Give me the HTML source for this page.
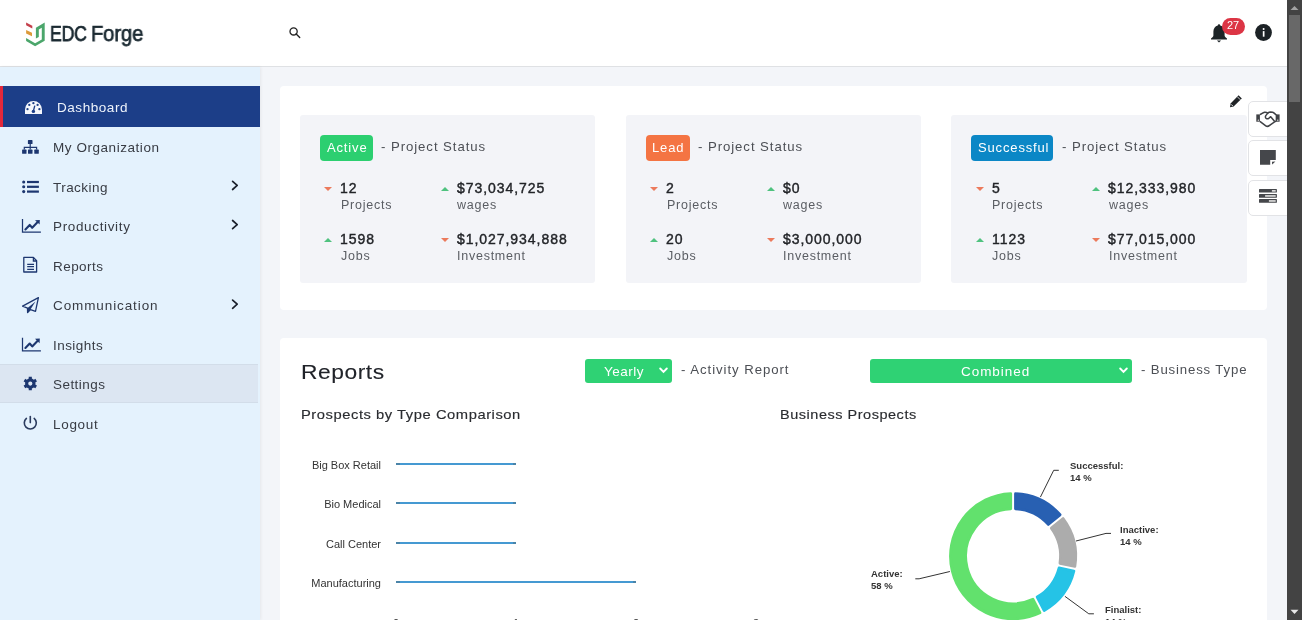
<!DOCTYPE html>
<html><head><meta charset="utf-8"><style>
*{box-sizing:border-box;margin:0;padding:0}
html,body{width:1302px;height:620px;overflow:hidden}
body{background:#f3f5f9;font-family:"Liberation Sans",sans-serif;position:relative;color:#333}
.abs{position:absolute}
.t{position:absolute;line-height:1;white-space:nowrap;will-change:transform}
#hdr{position:absolute;left:0;top:0;width:1287px;height:67px;background:#fff;border-bottom:1px solid #dfe1e4}
#side{position:absolute;left:0;top:67px;width:260px;height:553px;background:#e4f2fd;box-shadow:1px 0 3px rgba(0,0,0,.06)}
.it{position:absolute;left:0;width:260px}
#sb{position:absolute;left:1287px;top:0;width:15px;height:620px;background:#434343}
.card{position:absolute;background:#fff;border-radius:4px}
.box{position:absolute;top:115px;width:295.4px;height:168px;background:#f3f4f8;border-radius:3px}
.badge{position:absolute;height:25.5px;border-radius:4px}
.tri{position:absolute;width:0;height:0;border-left:4px solid transparent;border-right:4px solid transparent}
.up{border-bottom:4.5px solid #4fc27f}
.dn{border-top:4.5px solid #ec7a5c}
.sbtn{position:absolute;left:1248px;width:45px;height:36px;background:#fff;border:1px solid #e2e3e6;border-radius:5px 0 0 5px}
.sel{position:absolute;top:359px;height:23.5px;background:#2fd274;border-radius:3px}
.bar{position:absolute;left:396px;height:2px;background:#4599d2}
</style></head><body>
<div id="hdr"></div>
<svg class="abs" style="left:20px;top:15px" width="30" height="35" viewBox="0 0 30 35">
<path d="M6.1 7.4 L12.3 10.7 L12.3 13.6 L6.1 10.2Z" fill="#c4404c"/>
<path d="M6.1 15.1 L12 17.7 L12 21.3 L6.1 18.5Z" fill="#dc9a3a"/>
<path d="M6.1 23.1 L15.1 28.2 L21.8 24.4 L21.8 12.8 L18.8 14.5 L18.8 22 L15.9 23.6 L15.9 12.7 L24.7 7.6 L24.7 25.8 L15.1 31.2 L6.1 26.1 Z" fill="#4ba66b"/>
</svg>
<div class="t" style="left:50.20px;top:22.64px;font-size:22.4px;color:#1b2a32;letter-spacing:-0.3px;transform:scaleX(0.79);transform-origin:0 0;-webkit-text-stroke:.75px #1b2a32;">EDC</div>
<div class="t" style="left:91.30px;top:22.64px;font-size:22.4px;color:#1b2a32;letter-spacing:-0.1px;transform:scaleX(0.9);transform-origin:0 0;-webkit-text-stroke:.75px #1b2a32;">Forge</div>
<svg class="abs" style="left:289px;top:27px" width="12" height="12" viewBox="0 0 12 12">
<circle cx="4.6" cy="4.4" r="3.6" fill="none" stroke="#222" stroke-width="1.3"/>
<path d="M7.2 7 L10.7 10.4" stroke="#222" stroke-width="1.4" stroke-linecap="round"/></svg>
<svg class="abs" style="left:1210px;top:23px" width="18" height="21" viewBox="0 0 18 21">
<path d="M9 1.2 C9.8 1.2 10.2 1.8 10.2 2.6 C13 3.3 14.6 5.6 14.6 8.6 L14.6 12.6 C14.6 13.6 15.6 14.6 17 15.6 L17 16.6 L1 16.6 L1 15.6 C2.4 14.6 3.4 13.6 3.4 12.6 L3.4 8.6 C3.4 5.6 5 3.3 7.8 2.6 C7.8 1.8 8.2 1.2 9 1.2Z" fill="#1d2427"/>
<path d="M6.9 17.6 L11.1 17.6 L9 19.6Z" fill="#1d2427"/></svg>
<div class="abs" style="left:1221.5px;top:18px;width:23.5px;height:17px;border-radius:8.5px;background:#dc3545"></div>
<div class="t" style="left:1227.30px;top:19.99px;font-size:11px;color:#fff;">27</div>
<svg class="abs" style="left:1255px;top:24px" width="17" height="17" viewBox="0 0 17 17">
<circle cx="8.5" cy="8.5" r="8.4" fill="#1c2226"/><circle cx="8.6" cy="4.9" r="1.0" fill="#fff"/>
<rect x="7.8" y="7.1" width="1.7" height="5.6" fill="#fff"/></svg>
<div id="side"></div>
<div class="it" style="top:86px;height:40.5px;background:#1c3e88;border-left:3px solid #e3283b;"></div>
<div class="t" style="left:56.50px;top:100.57px;font-size:13.5px;color:#eef3fb;letter-spacing:0.55px;">Dashboard</div>
<div class="it" style="top:126.5px;height:39.5px;"></div>
<div class="t" style="left:53.30px;top:141.07px;font-size:13.5px;color:#383c44;letter-spacing:0.55px;">My Organization</div>
<div class="it" style="top:166px;height:39.5px;"></div>
<div class="t" style="left:53.30px;top:180.57px;font-size:13.5px;color:#383c44;letter-spacing:0.45px;">Tracking</div>
<div class="it" style="top:205.5px;height:39.5px;"></div>
<div class="t" style="left:53.30px;top:220.07px;font-size:13.5px;color:#383c44;letter-spacing:0.65px;">Productivity</div>
<div class="it" style="top:245px;height:39.5px;"></div>
<div class="t" style="left:53.30px;top:259.57px;font-size:13.5px;color:#383c44;letter-spacing:0.45px;">Reports</div>
<div class="it" style="top:284.5px;height:39.5px;"></div>
<div class="t" style="left:53.30px;top:299.07px;font-size:13.5px;color:#383c44;letter-spacing:0.9px;">Communication</div>
<div class="it" style="top:324px;height:39.5px;"></div>
<div class="t" style="left:53.30px;top:338.57px;font-size:13.5px;color:#383c44;letter-spacing:0.45px;">Insights</div>
<div class="it" style="top:363.5px;height:39.5px;background:#dce6f2;width:258px;border-top:1px solid #d2dde9;border-bottom:1px solid #d2dde9;"></div>
<div class="t" style="left:53.30px;top:378.07px;font-size:13.5px;color:#383c44;letter-spacing:0.45px;">Settings</div>
<div class="it" style="top:403px;height:39.5px;"></div>
<div class="t" style="left:53.30px;top:417.57px;font-size:13.5px;color:#383c44;letter-spacing:0.7px;">Logout</div>
<svg class="abs" style="left:0;top:0" width="261" height="620"><path d="M25 114 L25 109.5 A8.5 8.5 0 0 1 42 109.5 L42 114 Z" fill="#f4f7fc"/><circle cx="29.3" cy="104.9" r="1.15" fill="#1c3e88"/><circle cx="33.4" cy="103.2" r="1.15" fill="#1c3e88"/><circle cx="37.6" cy="104.9" r="1.15" fill="#1c3e88"/><circle cx="27.5" cy="109.2" r="1.15" fill="#1c3e88"/><circle cx="39.4" cy="109.2" r="1.15" fill="#1c3e88"/><circle cx="33.4" cy="111.4" r="1.7" fill="#1c3e88"/><path d="M33.4 111 L34.8 105.6" stroke="#1c3e88" stroke-width="1.3"/><g fill="#1d3770"><rect x="27.9" y="140.1" width="4.6" height="4" rx=".6"/><rect x="22.1" y="149.6" width="4.4" height="4.2" rx=".6"/><rect x="28" y="149.6" width="4.5" height="4.2" rx=".6"/><rect x="34.3" y="149.6" width="4.5" height="4.2" rx=".6"/></g><path d="M30.2 144 V149.6 M24.3 149.6 V147.3 H36.6 V149.6" stroke="#1d3770" stroke-width="1.2" fill="none"/><circle cx="23.7" cy="182" r="1.55" fill="#1d3770"/><rect x="27" y="180.9" width="11.9" height="2.2" fill="#1d3770"/><circle cx="23.7" cy="186.8" r="1.55" fill="#1d3770"/><rect x="27" y="185.70000000000002" width="11.9" height="2.2" fill="#1d3770"/><circle cx="23.7" cy="191.6" r="1.55" fill="#1d3770"/><rect x="27" y="190.5" width="11.9" height="2.2" fill="#1d3770"/><g transform="translate(0 0)"><path d="M22.5 219.1 V232.2 H40.9" stroke="#1d3770" stroke-width="1.25" fill="none"/><path d="M25.4 229.4 L29.7 224.9 L32.2 227.8 L37.2 222.6" stroke="#1d3770" stroke-width="2.1" fill="none" stroke-linejoin="round" stroke-linecap="round"/><path d="M35 220.2 L39.8 219.9 L39.6 224.6Z" fill="#1d3770"/></g><g transform="translate(0 118.6)"><path d="M22.5 219.1 V232.2 H40.9" stroke="#1d3770" stroke-width="1.25" fill="none"/><path d="M25.4 229.4 L29.7 224.9 L32.2 227.8 L37.2 222.6" stroke="#1d3770" stroke-width="2.1" fill="none" stroke-linejoin="round" stroke-linecap="round"/><path d="M35 220.2 L39.8 219.9 L39.6 224.6Z" fill="#1d3770"/></g><path d="M23.8 257.4 H33.4 L36.6 260.8 V272 H23.8 Z" stroke="#1d3770" stroke-width="1.3" fill="none" stroke-linejoin="round"/><path d="M33.4 257.4 V261 H36.6" stroke="#1d3770" stroke-width="1.3" fill="none"/><path d="M27.2 264.4 H34 M27.2 266.6 H34 M27.2 269.4 H34" stroke="#1d3770" stroke-width="1.2"/><path d="M38.4 297.6 L22.6 306.1 L27.5 308.2 L27.6 312.6 L30.5 309.6 L35.5 311.3 Z" stroke="#1d3770" stroke-width="1.3" fill="none" stroke-linejoin="round"/><path d="M27.3 308.3 L35.5 301.5 L30.4 309.6 L27.5 312.8 Z" fill="#1d3770"/><path d="M28.73 376.73 L31.87 376.73 L31.85 378.48 L33.91 379.67 L35.42 378.78 L36.99 381.50 L35.46 382.36 L35.46 384.74 L36.99 385.60 L35.42 388.32 L33.91 387.43 L31.85 388.62 L31.87 390.37 L28.73 390.37 L28.75 388.62 L26.69 387.43 L25.18 388.32 L23.61 385.60 L25.14 384.74 L25.14 382.36 L23.61 381.50 L25.18 378.78 L26.69 379.67 L28.75 378.48Z M32.4 383.55 A2.1 2.1 0 1 0 28.2 383.55 A2.1 2.1 0 1 0 32.4 383.55Z" fill="#1d3770" fill-rule="evenodd"/><path d="M26.4 418.4 A6 6 0 1 0 34.2 418.4" stroke="#2a3b5e" stroke-width="1.6" fill="none" stroke-linecap="round"/><path d="M30.3 416.6 V422.6" stroke="#2a3b5e" stroke-width="1.6" stroke-linecap="round"/><path d="M232.6 181.3 L237.2 185.4 L232.6 189.5" stroke="#1b202b" stroke-width="1.7" fill="none" stroke-linecap="round" stroke-linejoin="round"/><path d="M232.6 220.5 L237.2 224.6 L232.6 228.7" stroke="#1b202b" stroke-width="1.7" fill="none" stroke-linecap="round" stroke-linejoin="round"/><path d="M232.6 300.09999999999997 L237.2 304.2 L232.6 308.3" stroke="#1b202b" stroke-width="1.7" fill="none" stroke-linecap="round" stroke-linejoin="round"/></svg>
<div class="card" style="left:280px;top:85.5px;width:987px;height:224.5px"></div>
<div class="box" style="left:300px"></div>
<div class="badge" style="left:320px;top:135.2px;width:53px;background:#2ccf70"></div>
<div class="t" style="left:326.60px;top:141.00px;font-size:13px;color:#fff;letter-spacing:0.85px;">Active</div>
<div class="t" style="left:381.20px;top:139.83px;font-size:13.2px;color:#4c4f55;letter-spacing:0.93px;">- Project Status</div>
<div class="tri dn" style="left:324.4px;top:186.7px"></div>
<div class="t" style="left:340.40px;top:180.85px;font-size:14px;color:#222428;letter-spacing:0.95px;-webkit-text-stroke:.4px #222428;">12</div>
<div class="t" style="left:340.80px;top:199.32px;font-size:12.5px;color:#5a5d63;letter-spacing:0.75px;">Projects</div>
<div class="tri up" style="left:440.8px;top:187.1px"></div>
<div class="t" style="left:456.80px;top:180.85px;font-size:14px;color:#222428;letter-spacing:0.95px;-webkit-text-stroke:.4px #222428;">$73,034,725</div>
<div class="t" style="left:457.20px;top:199.32px;font-size:12.5px;color:#5a5d63;letter-spacing:0.75px;">wages</div>
<div class="tri up" style="left:324.4px;top:237.9px"></div>
<div class="t" style="left:340.40px;top:231.65px;font-size:14px;color:#222428;letter-spacing:0.95px;-webkit-text-stroke:.4px #222428;">1598</div>
<div class="t" style="left:340.80px;top:250.12px;font-size:12.5px;color:#5a5d63;letter-spacing:0.75px;">Jobs</div>
<div class="tri dn" style="left:440.8px;top:237.5px"></div>
<div class="t" style="left:456.80px;top:231.65px;font-size:14px;color:#222428;letter-spacing:0.95px;-webkit-text-stroke:.4px #222428;">$1,027,934,888</div>
<div class="t" style="left:457.20px;top:250.12px;font-size:12.5px;color:#5a5d63;letter-spacing:0.75px;">Investment</div>
<div class="box" style="left:625.7px"></div>
<div class="badge" style="left:645.7px;top:135.2px;width:44.2px;background:#f47443"></div>
<div class="t" style="left:652.30px;top:141.00px;font-size:13px;color:#fff;letter-spacing:0.85px;">Lead</div>
<div class="t" style="left:698.10px;top:139.83px;font-size:13.2px;color:#4c4f55;letter-spacing:0.93px;">- Project Status</div>
<div class="tri dn" style="left:650.1px;top:186.7px"></div>
<div class="t" style="left:666.10px;top:180.85px;font-size:14px;color:#222428;letter-spacing:0.95px;-webkit-text-stroke:.4px #222428;">2</div>
<div class="t" style="left:666.50px;top:199.32px;font-size:12.5px;color:#5a5d63;letter-spacing:0.75px;">Projects</div>
<div class="tri up" style="left:766.5px;top:187.1px"></div>
<div class="t" style="left:782.50px;top:180.85px;font-size:14px;color:#222428;letter-spacing:0.95px;-webkit-text-stroke:.4px #222428;">$0</div>
<div class="t" style="left:782.90px;top:199.32px;font-size:12.5px;color:#5a5d63;letter-spacing:0.75px;">wages</div>
<div class="tri up" style="left:650.1px;top:237.9px"></div>
<div class="t" style="left:666.10px;top:231.65px;font-size:14px;color:#222428;letter-spacing:0.95px;-webkit-text-stroke:.4px #222428;">20</div>
<div class="t" style="left:666.50px;top:250.12px;font-size:12.5px;color:#5a5d63;letter-spacing:0.75px;">Jobs</div>
<div class="tri dn" style="left:766.5px;top:237.5px"></div>
<div class="t" style="left:782.50px;top:231.65px;font-size:14px;color:#222428;letter-spacing:0.95px;-webkit-text-stroke:.4px #222428;">$3,000,000</div>
<div class="t" style="left:782.90px;top:250.12px;font-size:12.5px;color:#5a5d63;letter-spacing:0.75px;">Investment</div>
<div class="box" style="left:951.3px"></div>
<div class="badge" style="left:971.3px;top:135.2px;width:82px;background:#0b87c6"></div>
<div class="t" style="left:977.90px;top:141.00px;font-size:13px;color:#fff;letter-spacing:0.85px;">Successful</div>
<div class="t" style="left:1061.50px;top:139.83px;font-size:13.2px;color:#4c4f55;letter-spacing:0.93px;">- Project Status</div>
<div class="tri dn" style="left:975.6999999999999px;top:186.7px"></div>
<div class="t" style="left:991.70px;top:180.85px;font-size:14px;color:#222428;letter-spacing:0.95px;-webkit-text-stroke:.4px #222428;">5</div>
<div class="t" style="left:992.10px;top:199.32px;font-size:12.5px;color:#5a5d63;letter-spacing:0.75px;">Projects</div>
<div class="tri up" style="left:1092.1px;top:187.1px"></div>
<div class="t" style="left:1108.10px;top:180.85px;font-size:14px;color:#222428;letter-spacing:0.95px;-webkit-text-stroke:.4px #222428;">$12,333,980</div>
<div class="t" style="left:1108.50px;top:199.32px;font-size:12.5px;color:#5a5d63;letter-spacing:0.75px;">wages</div>
<div class="tri up" style="left:975.6999999999999px;top:237.9px"></div>
<div class="t" style="left:991.70px;top:231.65px;font-size:14px;color:#222428;letter-spacing:0.95px;-webkit-text-stroke:.4px #222428;">1123</div>
<div class="t" style="left:992.10px;top:250.12px;font-size:12.5px;color:#5a5d63;letter-spacing:0.75px;">Jobs</div>
<div class="tri dn" style="left:1092.1px;top:237.5px"></div>
<div class="t" style="left:1108.10px;top:231.65px;font-size:14px;color:#222428;letter-spacing:0.95px;-webkit-text-stroke:.4px #222428;">$77,015,000</div>
<div class="t" style="left:1108.50px;top:250.12px;font-size:12.5px;color:#5a5d63;letter-spacing:0.75px;">Investment</div>
<svg class="abs" style="left:1229px;top:94px" width="14" height="14" viewBox="0 0 14 14">
<path d="M9.6 1.2 L12.8 4.4 L4.6 12.6 L1 13.2 L1.6 9.6 Z" fill="#1f2326"/>
<path d="M8.2 2.6 L11.4 5.8" stroke="#fff" stroke-width=".8"/>
<path d="M2.2 10.4 L3.8 12" stroke="#fff" stroke-width=".9"/></svg>
<div class="card" style="left:280px;top:338px;width:987px;height:300px"></div>
<div class="t" style="left:301.20px;top:363.29px;font-size:19.5px;color:#202329;letter-spacing:0.45px;transform:scaleX(1.17);transform-origin:0 0;-webkit-text-stroke:.1px #202329;">Reports</div>
<div class="t" style="left:300.70px;top:408.16px;font-size:13.4px;color:#2a2c30;letter-spacing:0.5px;transform:scaleX(1.1);transform-origin:0 0;-webkit-text-stroke:.15px #2a2c30;">Prospects by Type Comparison</div>
<div class="t" style="left:779.60px;top:408.16px;font-size:13.4px;color:#2a2c30;letter-spacing:0.5px;transform:scaleX(1.08);transform-origin:0 0;-webkit-text-stroke:.15px #2a2c30;">Business Prospects</div>
<div class="sel" style="left:585px;width:87px"></div>
<div class="t" style="left:603.50px;top:364.57px;font-size:13.5px;color:#fff;letter-spacing:0.5px;">Yearly</div>
<div class="sel" style="left:870px;width:262px"></div>
<div class="t" style="left:960.80px;top:364.57px;font-size:13.5px;color:#fff;letter-spacing:0.95px;">Combined</div>
<svg class="abs" style="left:659px;top:367px" width="9" height="7" viewBox="0 0 9 7"><path d="M1.2 1.5 L4.5 4.8 L7.8 1.5" stroke="#fff" stroke-width="1.9" fill="none" stroke-linecap="round"/></svg>
<svg class="abs" style="left:1118.5px;top:367px" width="9" height="7" viewBox="0 0 9 7"><path d="M1.2 1.5 L4.5 4.8 L7.8 1.5" stroke="#fff" stroke-width="1.9" fill="none" stroke-linecap="round"/></svg>
<div class="t" style="left:680.80px;top:363.03px;font-size:13.2px;color:#4c4f55;letter-spacing:0.95px;">- Activity Report</div>
<div class="t" style="left:1141.00px;top:363.03px;font-size:13.2px;color:#4c4f55;letter-spacing:0.85px;">- Business Type</div>
<div class="t" style="left:281.00px;top:459.69px;font-size:11px;color:#333;width:100px;text-align:right;">Big Box Retail</div>
<div class="bar" style="top:463px;width:120px"></div>
<div class="abs" style="left:396px;top:463px;width:3.5px;height:2px;background:#4a84a8"></div>
<div class="abs" style="left:512.5px;top:463px;width:3.5px;height:2px;background:#4a84a8"></div>
<div class="t" style="left:281.00px;top:498.69px;font-size:11px;color:#333;width:100px;text-align:right;">Bio Medical</div>
<div class="bar" style="top:502px;width:120px"></div>
<div class="abs" style="left:396px;top:502px;width:3.5px;height:2px;background:#4a84a8"></div>
<div class="abs" style="left:512.5px;top:502px;width:3.5px;height:2px;background:#4a84a8"></div>
<div class="t" style="left:281.00px;top:538.69px;font-size:11px;color:#333;width:100px;text-align:right;">Call Center</div>
<div class="bar" style="top:542px;width:120px"></div>
<div class="abs" style="left:396px;top:542px;width:3.5px;height:2px;background:#4a84a8"></div>
<div class="abs" style="left:512.5px;top:542px;width:3.5px;height:2px;background:#4a84a8"></div>
<div class="t" style="left:281.00px;top:577.69px;font-size:11px;color:#333;width:100px;text-align:right;">Manufacturing</div>
<div class="bar" style="top:581px;width:240px"></div>
<div class="abs" style="left:396px;top:581px;width:3.5px;height:2px;background:#4a84a8"></div>
<div class="abs" style="left:632.5px;top:581px;width:3.5px;height:2px;background:#4a84a8"></div>
<div class="t" style="left:393.00px;top:618.19px;font-size:11px;color:#333;">0</div>
<div class="t" style="left:513.00px;top:618.19px;font-size:11px;color:#333;">1</div>
<div class="t" style="left:633.00px;top:618.19px;font-size:11px;color:#333;">2</div>
<div class="t" style="left:753.00px;top:618.19px;font-size:11px;color:#333;">3</div>
<svg class="abs" style="left:0;top:0" width="1302" height="620"><path d="M1015.50 493.65 A62.6 62.6 0 0 1 1060.06 514.80 L1048.27 524.42 A47.4 47.4 0 0 0 1015.50 508.86Z" fill="#2860b2" stroke="#2860b2" stroke-width="2.8" stroke-linejoin="round"/><path d="M1063.09 518.52 A62.6 62.6 0 0 1 1074.88 566.32 L1059.97 563.29 A47.4 47.4 0 0 0 1051.30 528.14Z" fill="#acacac" stroke="#acacac" stroke-width="2.8" stroke-linejoin="round"/><path d="M1073.92 571.02 A62.6 62.6 0 0 1 1044.21 610.52 L1037.16 597.04 A47.4 47.4 0 0 0 1059.01 567.99Z" fill="#25c3e6" stroke="#25c3e6" stroke-width="2.8" stroke-linejoin="round"/><path d="M1039.95 612.75 A62.6 62.6 0 1 1 1010.70 493.65 L1010.70 508.86 A47.4 47.4 0 1 0 1032.91 599.26Z" fill="#62e16d" stroke="#62e16d" stroke-width="2.8" stroke-linejoin="round"/><path d="M1040.4 497.1 L1053.7 470.3 H1058.8 M1076 541 L1106 533.4 H1111 M949.9 571.5 L919.1 578.8 H915.3 M1064.9 596.3 L1088.8 613.8 H1093.9" stroke="#333" stroke-width="1" fill="none"/></svg>
<div class="t" style="left:1069.50px;top:461.06px;font-size:9.5px;color:#333;font-weight:bold;">Successful:</div>
<div class="t" style="left:1069.50px;top:472.86px;font-size:9.5px;color:#333;font-weight:bold;">14 %</div>
<div class="t" style="left:1120.40px;top:525.06px;font-size:9.5px;color:#333;font-weight:bold;">Inactive:</div>
<div class="t" style="left:1120.40px;top:536.86px;font-size:9.5px;color:#333;font-weight:bold;">14 %</div>
<div class="t" style="left:870.60px;top:568.86px;font-size:9.5px;color:#333;font-weight:bold;">Active:</div>
<div class="t" style="left:870.60px;top:580.66px;font-size:9.5px;color:#333;font-weight:bold;">58 %</div>
<div class="t" style="left:1104.50px;top:604.86px;font-size:9.5px;color:#333;font-weight:bold;">Finalist:</div>
<div class="t" style="left:1104.50px;top:616.66px;font-size:9.5px;color:#333;font-weight:bold;">14 %</div>
<div class="sbtn" style="top:100.5px"></div>
<div class="sbtn" style="top:140px"></div>
<div class="sbtn" style="top:179.5px"></div>
<svg class="abs" style="left:1250px;top:104px" width="36" height="30" viewBox="0 0 36 30">
<path d="M9.9 10.6 C11.6 9.8 12.8 8.6 14.6 8.2 C15.8 8 16.8 8.4 17.8 9.1 C18.6 8.4 19.6 8.1 20.6 8.1 L22.6 8.2 C24 8.6 25 10 26.4 11 L26.4 16.9 L24.2 18.2 L19.6 21.4 C18.4 22.4 16.8 22.6 15.8 21.8 L9.9 17.3" fill="none" stroke="#3f4145" stroke-width="1.5" stroke-linejoin="round"/>
<path d="M17.8 9.1 L15.8 11.6 C15.1 12.6 15.4 14.1 16.4 14.6 C17.2 15 18.2 14.8 18.9 14.2 L20.7 12.7 L24.3 17" fill="none" stroke="#3f4145" stroke-width="1.5" stroke-linejoin="round" stroke-linecap="round"/>
<rect x="6.3" y="10.4" width="3.6" height="7.3" fill="#3f4145"/><rect x="26.3" y="10.4" width="3.3" height="7.3" fill="#3f4145"/>
<circle cx="8.3" cy="16.2" r=".65" fill="#fff"/><circle cx="27.8" cy="16.2" r=".65" fill="#fff"/>
</svg>
<svg class="abs" style="left:1260px;top:150px" width="16" height="15" viewBox="0 0 16 15">
<path d="M0 0 H15.8 V10.1 H10.2 V14.8 H0 Z" fill="#45474b"/><path d="M12 11.8 L15.4 11.6 L12.2 14.6Z" fill="#45474b"/></svg>
<svg class="abs" style="left:1259px;top:189px" width="18" height="14" viewBox="0 0 18 14">
<rect x="0" y="0" width="17.9" height="3.6" rx=".5" fill="#45474b"/><rect x="0" y="5" width="17.9" height="3.7" rx=".5" fill="#45474b"/><rect x="0" y="10.1" width="17.9" height="3.6" rx=".5" fill="#45474b"/>
<rect x="12.9" y="1" width="3.8" height="1.7" fill="#d9d9d9"/><rect x="6.1" y="6.1" width="10.6" height="1.7" fill="#d9d9d9"/><rect x="9.9" y="11.1" width="6.8" height="1.7" fill="#d9d9d9"/></svg>
<div id="sb"><div class="abs" style="left:1.7px;top:15px;width:11.3px;height:86.5px;background:#686868"></div>
<svg class="abs" style="left:0;top:0" width="15" height="620"><path d="M3.5 10 L7.5 6 L11.5 10Z" fill="#a3a3a3"/><path d="M3.5 609.8 L7.5 614 L11.5 609.8Z" fill="#e8e8e8"/></svg></div>
</body></html>
